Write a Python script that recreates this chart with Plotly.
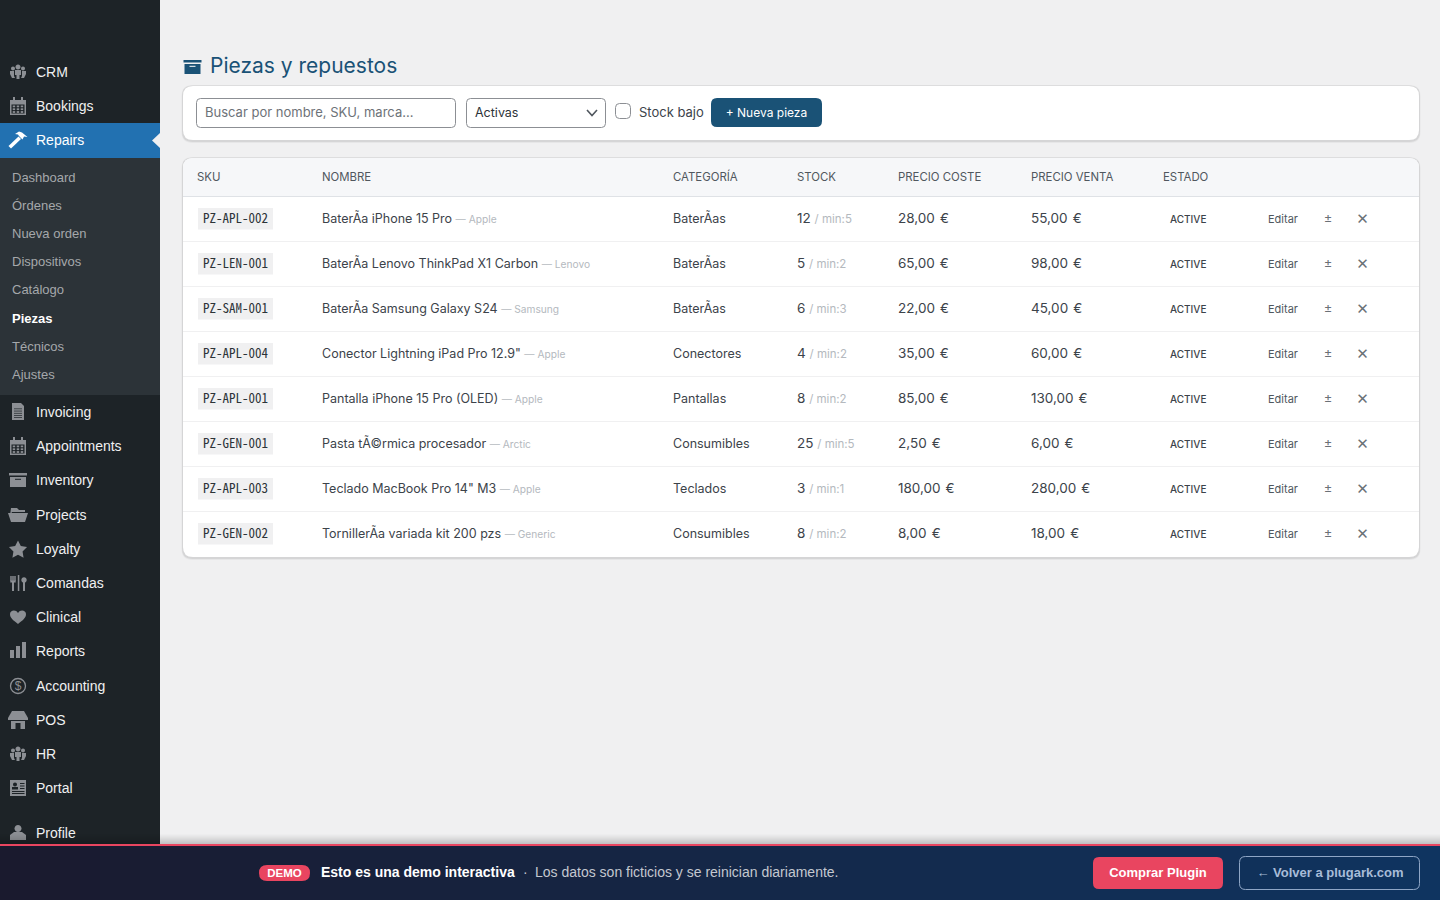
import math
import plotly.graph_objects as go

# sidebar
main_menu_top = ["CRM", "Bookings"]
main_menu_top_y = [72, 106]
sub_menu = ["Dashboard", "Órdenes", "Nueva orden", "Dispositivos", "Catálogo", "Piezas", "Técnicos", "Ajustes"]
sub_menu_y = [177, 205, 233, 261, 289, 318, 346, 374]
main_menu = ["Invoicing", "Appointments", "Inventory", "Projects", "Loyalty", "Comandas", "Clinical",
             "Reports", "Accounting", "POS", "HR", "Portal", "Profile"]
main_menu_y = [412, 446, 480, 515, 549, 583, 617, 651, 686, 720, 754, 788, 833]

# table
headers = ["SKU", "NOMBRE", "CATEGORÍA", "STOCK", "PRECIO COSTE", "PRECIO VENTA", "ESTADO"]
header_x = [197, 322, 673, 797, 898, 1031, 1163]
skus = ["PZ-APL-002", "PZ-LEN-001", "PZ-SAM-001", "PZ-APL-004", "PZ-APL-001", "PZ-GEN-001", "PZ-APL-003", "PZ-GEN-002"]
names = ["BaterÃ\u00ada iPhone 15 Pro", "BaterÃ\u00ada Lenovo ThinkPad X1 Carbon", "BaterÃ\u00ada Samsung Galaxy S24",
         "Conector Lightning iPad Pro 12.9\"", "Pantalla iPhone 15 Pro (OLED)", "Pasta tÃ©rmica procesador",
         "Teclado MacBook Pro 14\" M3", "TornillerÃ\u00ada variada kit 200 pzs"]
brands = ["Apple", "Lenovo", "Samsung", "Apple", "Apple", "Arctic", "Apple", "Generic"]
categories = ["BaterÃ\u00adas", "BaterÃ\u00adas", "BaterÃ\u00adas", "Conectores", "Pantallas", "Consumibles", "Teclados", "Consumibles"]
stock = [12, 5, 6, 4, 8, 25, 3, 8]
stock_min = [5, 2, 3, 2, 2, 5, 1, 2]
cost = [28.0, 65.0, 22.0, 35.0, 85.0, 2.5, 180.0, 8.0]
price = [55.0, 98.0, 45.0, 60.0, 130.0, 6.0, 280.0, 18.0]
status = ["ACTIVE"] * 8
row_y = [219, 264, 309, 354, 399, 444, 489, 534]

BODY = "Inter"
ARIAL = "Liberation Sans"
MONO = "Noto Sans Mono CJK SC, Liberation Mono"
BLUE = "#1a5276"
GRAY = "#8c8f94"
DARK = "#1d2327"

fig = go.Figure()
shapes = []


def rrect(x0, y0, x1, y1, r):
    return (f"M{x0+r},{y0} L{x1-r},{y0} Q{x1},{y0} {x1},{y0+r} L{x1},{y1-r} Q{x1},{y1} {x1-r},{y1} "
            f"L{x0+r},{y1} Q{x0},{y1} {x0},{y1-r} L{x0},{y0+r} Q{x0},{y0} {x0+r},{y0} Z")


def circle(cx, cy, r):
    k = r * 0.552
    return (f"M{cx-r},{cy} C{cx-r},{cy-k} {cx-k},{cy-r} {cx},{cy-r} C{cx+k},{cy-r} {cx+r},{cy-k} {cx+r},{cy} "
            f"C{cx+r},{cy+k} {cx+k},{cy+r} {cx},{cy+r} C{cx-k},{cy+r} {cx-r},{cy+k} {cx-r},{cy} Z")


def poly(pts, dx=0, dy=0):
    return "M" + " L".join(f"{x+dx},{y+dy}" for x, y in pts) + " Z"


def add(path, fill="rgba(0,0,0,0)", line=None, width=1):
    shapes.append(dict(type="path", xref="x", yref="y", path=path, fillcolor=fill, layer="below",
                       line=dict(color=line or "rgba(0,0,0,0)", width=width if line else 0)))


def box(x0, y0, x1, y1, fill):
    shapes.append(dict(type="rect", xref="x", yref="y", x0=x0, y0=y0, x1=x1, y1=y1, fillcolor=fill,
                       line=dict(width=0), layer="below"))


# plotly sets text about 1px high compared to the reference, so nudge is added here
def text(xs, ys, labels, size, color, family=BODY, pos="middle right", weight=None, nudge=1):
    fig.add_trace(go.Scatter(x=xs, y=[y + nudge for y in ys], text=labels, mode="text", textposition=pos,
                             hoverinfo="skip", showlegend=False,
                             textfont=dict(size=size, color=color, family=family, weight=weight)))


def card(x0, y0, x1, y1):
    add(rrect(x0 - 1.5, y0 - 1, x1 + 1.5, y1 + 3, 11), "rgba(0,0,0,0.04)")
    add(rrect(x0 - 1, y0 - 0.5, x1 + 1, y1 + 2, 10.5), "rgba(0,0,0,0.07)")
    add(rrect(x0, y0, x1, y1, 10), "#ffffff")


# icons, drawn around (18, y)
def ic_people(y):
    for cx, cy, r in [(13, y - 3.5, 2), (18, y - 5, 2.5), (23, y - 3.5, 2)]:
        add(circle(cx, cy, r), GRAY)
    add(poly([(-3, -2), (3, -2), (3, 3), (1.5, 3), (1.5, 7), (-1.5, 7), (-1.5, 3), (-3, 3)], 18, y), GRAY)
    add(poly([(-8, -1), (-4, -1), (-4, 4), (-3, 6), (-6, 6), (-8, 2)], 18, y), GRAY)
    add(poly([(8, -1), (4, -1), (4, 4), (3, 6), (6, 6), (8, 2)], 18, y), GRAY)


def ic_calendar(y):
    box(10, y - 6, 26, y + 9, GRAY)
    box(11.5, y - 1.5, 24.5, y + 7.5, DARK)
    box(13, y - 9, 15, y - 4, GRAY)
    box(21, y - 9, 23, y - 4, GRAY)
    for i in range(3):
        for j in range(3):
            box(12.7 + i * 4, y - 0.5 + j * 2.8, 15.2 + i * 4, y + 1.3 + j * 2.8, GRAY)


def ic_hammer(y):
    add(poly([(-9.5, 6), (-7, 8.5), (3, -1), (0.5, -3.5)], 18, y), "#ffffff")
    add(poly([(-3, -6), (1, -8.5), (4, -7.5), (9.5, -3), (6, -3.5), (4.5, -0.5), (1, -4), (0, -5.5)], 18, y), "#ffffff")


def ic_doc(y):
    add(poly([(-6, -9), (3, -9), (6, -6), (6, 8), (-6, 8)], 18, y), GRAY)
    for k in range(5):
        box(14, y - 3.5 + k * 2.2, 22, y - 2.8 + k * 2.2, DARK)


def ic_box(y, color=GRAY, hole=DARK, cx=18):
    box(cx - 9, y - 7, cx + 9, y - 4.5, color)
    box(cx - 8, y - 3, cx + 8, y + 7, color)
    box(cx - 3, y - 1.2, cx + 3, y - 0.2, hole)


def ic_folder(y):
    add(poly([(-7, -7), (-1, -7), (1, -5), (7, -5), (7, -3), (-6, -3), (-8, 1)], 18, y), GRAY)
    add(poly([(-6, -2), (10, -2), (7, 7), (-7, 7), (-10, -2)], 18, y), GRAY)


def ic_star(y):
    pts = []
    for k in range(10):
        r = 9.5 if k % 2 == 0 else 4.8
        a = -math.pi / 2 + k * math.pi / 5
        pts.append((r * math.cos(a), r * math.sin(a) + 1))
    add(poly(pts, 18, y), GRAY)


def ic_cutlery(y):
    for x in (11, 13, 15):
        box(x - 0.7, y - 7, x + 0.7, y - 2, GRAY)
    box(10.3, y - 2.5, 15.7, y - 0.5, GRAY)
    box(12, y - 1, 14, y + 8, GRAY)
    box(17.8, y - 8, 19.3, y + 8, GRAY)
    add(circle(24, y - 3, 2.7), GRAY)
    box(23, y - 2, 25, y + 8, GRAY)


def ic_heart(y):
    add(f"M18,{y+7} C13,{y+3} 10,{y+1} 10,{y-3} C10,{y-7} 16,{y-8} 18,{y-4} "
        f"C20,{y-8} 26,{y-7} 26,{y-3} C26,{y+1} 23,{y+3} 18,{y+7} Z", GRAY)


def ic_bars(y):
    box(10, y - 1, 14, y + 7, GRAY)
    box(16, y - 5, 20, y + 7, GRAY)
    box(22, y - 9, 26, y + 7, GRAY)


def ic_dollar(y):
    add(circle(18, y, 7.5), None, GRAY, 1.3)


def ic_store(y):
    add(poly([(-6, -9), (6, -9), (10, -2), (10, 0), (-10, 0), (-10, -2)], 18, y), GRAY)
    box(11, y + 1, 25, y + 9, GRAY)
    box(15.5, y + 3, 20.5, y + 9, DARK)


def ic_card(y):
    box(10, y - 8, 26, y + 8, GRAY)
    add(circle(15, y - 3.5, 2), DARK)
    box(12, y - 1, 18, y + 1.5, DARK)
    for yy in (-5, -2.5, 0):
        box(20, y + yy, 24.5, y + yy + 1, DARK)
    for yy in (3, 5):
        box(12, y + yy, 24.5, y + yy + 1, DARK)


def ic_person(y):
    add(circle(18, y - 4.5, 3.5), GRAY)
    add(poly([(-4, -1), (4, -1), (8, 2), (8, 7), (-8, 7), (-8, 2)], 18, y), GRAY)


# page and sidebar
box(0, 0, 1440, 900, "#f0f0f1")
box(0, 0, 160, 900, DARK)
box(0, 158, 160, 395, "#2c3338")
box(0, 123, 160, 158, "#2271b1")
add(poly([(152, 140.5), (160, 133), (160, 148)]), "#f0f0f1")

for fn, y in [(ic_people, 72), (ic_calendar, 106), (ic_hammer, 140), (ic_doc, 412), (ic_calendar, 446),
              (ic_box, 480), (ic_folder, 515), (ic_star, 549), (ic_cutlery, 583), (ic_heart, 617),
              (ic_bars, 651), (ic_dollar, 686), (ic_store, 720), (ic_people, 754), (ic_card, 788),
              (ic_person, 833)]:
    fn(y)

text([36] * 2, main_menu_top_y, main_menu_top, 14, "#f0f0f1", ARIAL)
text([36], [140], ["Repairs"], 14, "#ffffff", ARIAL)
text([36] * len(main_menu), main_menu_y, main_menu, 14, "#f0f0f1", ARIAL)
sub_colors = ["#ffffff" if s == "Piezas" else "#a5a8ab" for s in sub_menu]
sub_labels = [f"<b>{s}</b>" if s == "Piezas" else s for s in sub_menu]
fig.add_trace(go.Scatter(x=[12] * len(sub_menu), y=[y + 2 for y in sub_menu_y], text=sub_labels, mode="text",
                         textposition="middle right", hoverinfo="skip", showlegend=False,
                         textfont=dict(size=13, color=sub_colors, family=ARIAL)))
text([18], [686], ["$"], 12, GRAY, ARIAL, "middle center")

# heading
ic_box(67, BLUE, "#ffffff", 192.5)
text([210], [65], ["Piezas y repuestos"], 21, BLUE, nudge=3)

# toolbar
card(183, 86, 1419, 140)
add(rrect(196.5, 98.5, 455.5, 127.5, 4), "#ffffff", GRAY, 1)
text([205], [113], ["Buscar por nombre, SKU, marca..."], 13, "#6d7278")
add(rrect(466.5, 98.5, 605.5, 127.5, 4), "#ffffff", GRAY, 1)
text([475], [113], ["Activas"], 12.5, "#2c3338")
add("M587,110 L592,115.5 L597,110", None, "#50575e", 1.6)
add(rrect(615.5, 103.5, 630.5, 118.5, 4), "#ffffff", GRAY, 1)
text([639], [113], ["Stock bajo"], 13, "#3c434a")
add(rrect(711, 98, 822, 127, 6), BLUE)
text([766.5], [113], ["+ Nueva pieza"], 12, "#ffffff", pos="middle center")

# table card
card(183, 158, 1419, 557)
add(f"M183,196 L183,168 Q183,158 193,158 L1409,158 Q1419,158 1419,168 L1419,196 Z", "#f6f7f9")
box(183, 196, 1419, 197, "#dfe2e6")
for y in row_y[1:]:
    box(183, y - 23, 1419, y - 22, "#f0f0f1")
for y in row_y:
    box(198, y - 11, 273, y + 10.5, "#f0f0f1")

text(header_x, [177] * len(headers), headers, 11.4, "#50575e")
text([203] * 8, row_y, skus, 13, "#2c3338", MONO)

brand_css = "color:#b4b9be;font-size:10.2px"
min_css = "color:#b4b9be;font-size:11.5px"
name_labels = [f'{n} <span style="{brand_css}">— {b}</span>' for n, b in zip(names, brands)]
stock_labels = [f'{s} <span style="{min_css}">/ min:{m}</span>' for s, m in zip(stock, stock_min)]
cost_labels = [f"{v:.2f}".replace(".", ",") + "\u00a0\u200a€" for v in cost]
price_labels = [f"{v:.2f}".replace(".", ",") + "\u00a0\u200a€" for v in price]

text([322] * 8, row_y, name_labels, 12.5, "#3c434a")
text([673] * 8, row_y, categories, 12.5, "#3c434a")
text([797] * 8, row_y, stock_labels, 13.5, "#3c434a")
text([898] * 8, row_y, cost_labels, 13.5, "#3c434a")
text([1031] * 8, row_y, price_labels, 13.5, "#3c434a")
text([1170] * 8, row_y, status, 10, "#3c434a", weight=500)
text([1268] * 8, row_y, ["Editar"] * 8, 11, "#50575e")
text([1328] * 8, row_y, ["±"] * 8, 13, "#6b7177", pos="middle center")
text([1362.5] * 8, row_y, ["✕"] * 8, 15, "#6b7177", "DejaVu Sans", "middle center", nudge=1)

# demo banner
for k in range(10):
    box(0, 834 + k, 1440, 835 + k, f"rgba(0,0,0,{0.012 * (k + 1) ** 1.2:.3f})")
steps = 72
for k in range(steps):
    t = k / (steps - 1)
    c = [round(a + (b - a) * t) for a, b in zip((26, 26, 46), (15, 52, 96))]
    box(k * 20, 844, (k + 1) * 20, 900, f"rgb({c[0]},{c[1]},{c[2]})")
box(0, 844, 1440, 846, "#e94560")
add(rrect(259, 865, 310, 881, 8), "#e94560")
text([284.5], [873], ["<b>DEMO</b>"], 11.5, "#ffffff", ARIAL, "middle center")
text([321], [872.5], ["<b>Esto es una demo interactiva</b>"], 14, "#ffffff", ARIAL)
text([523], [872.5], ["·"], 14, "#c4c8d0", ARIAL)
text([535], [872.5], ["Los datos son ficticios y se reinician diariamente."], 14, "#c4c8d0", ARIAL)
add(rrect(1093, 857, 1223, 889, 6), "#e94560")
text([1158], [873], ["<b>Comprar Plugin</b>"], 13, "#ffffff", ARIAL, "middle center")
add(rrect(1239.5, 856.5, 1419.5, 889.5, 6), None, "#8fa6c6", 1)
text([1330], [873], ["<b>← Volver a plugark.com</b>"], 13, "#a8bcd8", ARIAL, "middle center")

fig.update_layout(
    width=1440, height=900, margin=dict(l=0, r=0, t=0, b=0),
    paper_bgcolor="#f0f0f1", plot_bgcolor="#f0f0f1", showlegend=False, shapes=shapes,
    xaxis=dict(range=[0, 1440], visible=False, fixedrange=True),
    yaxis=dict(range=[900, 0], visible=False, fixedrange=True),
)
fig.write_html("out.html", config={"displayModeBar": False},
               post_script="document.body.style.margin='0';document.body.style.overflow='hidden';")
